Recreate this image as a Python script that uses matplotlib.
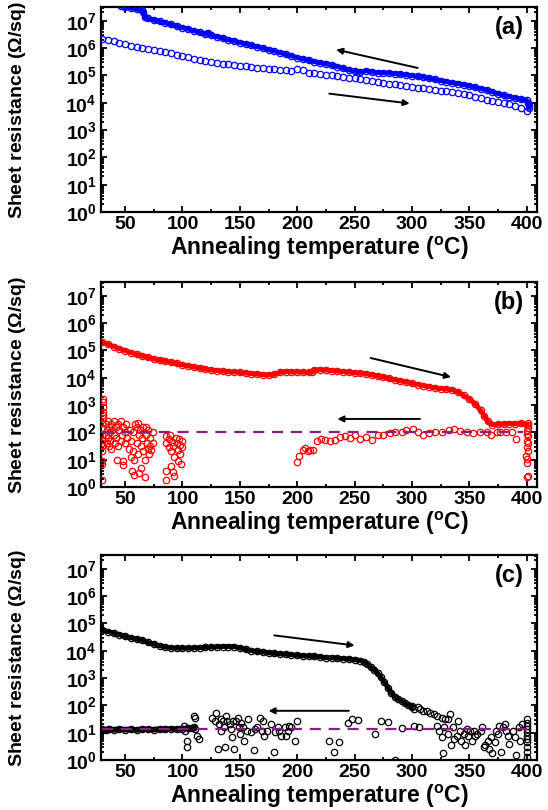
import numpy as np
import matplotlib
matplotlib.use("Agg")
import matplotlib.pyplot as plt
from matplotlib.ticker import FixedLocator, LogLocator, NullFormatter, FuncFormatter

plt.rcParams['font.family'] = ['Liberation Sans', 'DejaVu Sans']
plt.rcParams['font.weight'] = 'bold'
plt.rcParams['mathtext.fontset'] = 'custom'
plt.rcParams['mathtext.rm'] = 'Liberation Sans:bold'
plt.rcParams['mathtext.bf'] = 'Liberation Sans:bold'
plt.rcParams['mathtext.it'] = 'Liberation Sans:bold'
plt.rcParams['mathtext.default'] = 'bf'

# ---- data (temperature in degC, resistance stored as log10 of Ohm/sq) ----
# panel (a): heating (lower branch) and cooling (upper branch)
a_heat_t = [30, 35, 40, 45, 50, 55, 60, 65, 70, 75, 80, 85, 90, 95, 100, 105, 110, 115, 120, 125,
            130, 135, 140, 145, 150, 155, 160, 165, 170, 175, 180, 185, 190, 195, 200, 205, 210, 215,
            220, 225, 230, 235, 240, 245, 250, 255, 260, 265, 270, 275, 280, 285, 290, 295, 300, 305,
            310, 315, 320, 325, 330, 335, 340, 345, 350, 355, 360, 365, 370, 375, 380, 385, 390, 395, 400]
a_heat_r = [6.33, 6.29, 6.24, 6.18, 6.13, 6.09, 6.05, 6.01, 5.97, 5.94, 5.90, 5.85, 5.80, 5.76, 5.71,
            5.66, 5.61, 5.56, 5.52, 5.49, 5.46, 5.43, 5.40, 5.37, 5.35, 5.33, 5.30, 5.28, 5.27, 5.25,
            5.22, 5.20, 5.18, 5.15, 5.23, 5.20, 5.10, 5.07, 5.05, 5.02, 5.00, 4.97, 4.95, 4.92, 4.89,
            4.86, 4.83, 4.80, 4.76, 4.73, 4.70, 4.67, 4.64, 4.61, 4.58, 4.55, 4.52, 4.50, 4.47, 4.44,
            4.41, 4.38, 4.35, 4.31, 4.27, 4.22, 4.17, 4.11, 4.07, 4.03, 3.99, 3.94, 3.88, 3.80, 3.70]
a_cool_t = [402, 402, 401, 400, 395, 390, 385, 380, 375, 370, 365, 360, 355, 350, 345, 340, 335, 330,
            325, 320, 315, 310, 305, 300, 295, 290, 285, 280, 275, 270, 265, 260, 255, 250, 245, 240,
            235, 230, 225, 220, 215, 210, 205, 200, 195, 190, 185, 180, 175, 170, 165, 160, 155, 150,
            145, 140, 135, 130, 125, 122, 120, 115, 110, 105, 100, 95, 90, 85, 80, 75, 70, 67, 66, 65,
            60, 55, 50, 46]
a_cool_r = [3.80, 3.90, 4.00, 4.08, 4.12, 4.17, 4.22, 4.27, 4.33, 4.40, 4.46, 4.51, 4.56, 4.61, 4.66,
            4.70, 4.73, 4.77, 4.81, 4.85, 4.89, 4.93, 4.96, 4.99, 5.02, 5.04, 5.06, 5.08, 5.09, 5.10,
            5.12, 5.17, 5.11, 5.15, 5.20, 5.26, 5.32, 5.37, 5.42, 5.46, 5.50, 5.55, 5.60, 5.65, 5.71,
            5.77, 5.83, 5.89, 5.94, 6.00, 6.05, 6.10, 6.15, 6.20, 6.25, 6.30, 6.36, 6.41, 6.47, 6.56,
            6.50, 6.57, 6.63, 6.69, 6.74, 6.80, 6.86, 6.92, 6.97, 7.02, 7.08, 7.12, 7.30, 7.38, 7.42,
            7.46, 7.50, 7.53]

# panel (b)
b_heat_t = [30, 35, 40, 45, 50, 55, 60, 65, 70, 75, 80, 85, 90, 95, 100, 105, 110, 115, 120, 125,
            130, 135, 140, 145, 150, 155, 160, 165, 170, 175, 180, 185, 190, 195, 200, 205, 210, 213,
            215, 220, 225, 230, 235, 240, 245, 250, 255, 260, 265, 270, 275, 280, 285, 290, 295, 300,
            305, 310, 315, 320, 325, 330, 335, 340, 345, 350, 355, 360, 363, 366, 370, 375, 380, 385,
            390, 395, 400]
b_heat_r = [5.30, 5.22, 5.14, 5.06, 4.99, 4.92, 4.85, 4.79, 4.74, 4.69, 4.64, 4.60, 4.56, 4.52, 4.47,
            4.43, 4.39, 4.35, 4.31, 4.28, 4.26, 4.24, 4.22, 4.21, 4.19, 4.17, 4.15, 4.13, 4.11, 4.10,
            4.12, 4.20, 4.22, 4.21, 4.21, 4.20, 4.19, 4.22, 4.29, 4.29, 4.28, 4.26, 4.24, 4.22, 4.20,
            4.18, 4.16, 4.14, 4.11, 4.06, 4.02, 3.97, 3.93, 3.88, 3.84, 3.79, 3.75, 3.71, 3.67, 3.63,
            3.60, 3.58, 3.56, 3.48, 3.35, 3.22, 3.05, 2.80, 2.60, 2.40, 2.28, 2.30, 2.29, 2.32, 2.31,
            2.33, 2.28]
b_cool_t = [401, 401, 401, 400, 400, 401, 400, 401, 400, 401, 399, 400, 400, 401, 400, 391,
            387, 382, 377, 374, 369, 365, 359, 353, 348, 342, 337, 332, 326, 320, 315, 310, 305, 301,
            295, 291, 285, 281, 275, 270, 265, 260, 255, 250, 246, 242, 237, 233, 229, 224, 221, 217,
            214, 211, 209, 207, 205, 202, 200,
            100, 100, 99, 98, 98, 97, 96, 96, 95, 94, 93, 93, 92, 92, 91, 90, 90, 89, 88, 88, 86, 86,
            86, 86,
            74, 74, 73, 72, 72, 71, 70, 70, 69, 68, 68, 67, 67, 66, 66, 65, 64, 64, 63, 62, 62, 61, 61,
            60, 60, 59, 58, 58, 57, 57, 56, 55, 55, 54, 53, 52, 51, 50, 50, 48, 48, 48, 47, 46, 46, 45,
            44, 44, 43, 42, 42, 41, 40, 40, 39, 38, 38, 37, 37, 36, 36, 35, 35, 34, 34, 33, 33,
            31, 31, 31, 31, 31, 31, 30, 30, 30, 30, 30, 30, 30, 30, 30, 30]
b_cool_r = [2.33, 2.25, 2.15, 2.05, 1.95, 1.85, 1.70, 1.61, 1.45, 1.31, 1.15, 1.01, 0.89, 0.42, 0.35,
            1.77, 2.03, 2.03, 2.00, 2.00, 1.91, 2.01, 2.00, 1.97, 2.00, 2.05, 2.12, 2.09, 2.03, 2.01,
            1.97, 1.91, 2.03, 2.13, 2.09, 2.03, 2.01, 1.97, 1.91, 1.89, 1.73, 1.82, 1.77, 1.91, 1.79,
            1.85, 1.82, 1.73, 1.67, 1.73, 1.77, 1.67, 1.37, 1.37, 1.31, 1.43, 1.37, 1.13, 0.92,
            1.70, 1.45, 0.85, 1.20, 1.55, 1.75, 1.35, 0.95, 1.60, 1.80, 0.40, 1.10, 1.50, 0.55, 1.65,
            1.30, 0.75, 1.90, 1.75, 1.45, 1.85, 1.60, 0.60, 0.25,
            1.60, 2.00, 1.35, 1.80, 1.50, 1.20, 2.10, 1.40, 1.60, 2.20, 1.90, 1.00, 0.35, 2.20, 1.30,
            1.80, 1.50, 0.70, 2.10, 1.90, 0.50, 2.35, 1.20, 2.20, 1.60, 2.30, 1.00, 0.45, 2.00, 1.30,
            0.60, 1.70, 1.10, 2.10, 1.40, 1.80, 2.30, 2.00, 1.60, 2.20, 0.95, 0.80, 1.90, 1.70, 2.40,
            2.10, 1.50, 2.30, 1.00, 2.20, 1.80, 1.60, 2.40, 1.90, 2.10, 1.40, 2.30, 1.70, 2.00, 1.50,
            2.20, 2.40, 1.80, 2.10, 1.60, 2.30, 1.90,
            3.23, 3.11, 2.93, 2.75, 2.63, 2.51, 2.33, 2.15, 1.91, 1.73, 1.49, 1.31, 0.95, 0.85, 1.60,
            0.25]

# panel (c)
c_heat_t = [30, 35, 40, 45, 50, 55, 60, 65, 70, 75, 80, 85, 90, 95, 100, 105, 110, 115, 120, 125,
            130, 135, 140, 145, 150, 155, 160, 165, 170, 175, 180, 185, 190, 195, 200, 205, 210, 215,
            220, 225, 230, 235, 240, 245, 250, 255, 258, 261, 264, 267, 270, 273, 276, 279, 282, 285,
            288, 291, 294, 297, 300]
c_heat_r = [4.77, 4.70, 4.64, 4.58, 4.52, 4.47, 4.42, 4.38, 4.30, 4.24, 4.18, 4.13, 4.10, 4.09, 4.09,
            4.09, 4.10, 4.11, 4.12, 4.13, 4.14, 4.15, 4.15, 4.15, 4.10, 4.05, 4.00, 3.97, 3.95, 3.92,
            3.90, 3.88, 3.87, 3.85, 3.83, 3.81, 3.80, 3.79, 3.77, 3.75, 3.74, 3.72, 3.71, 3.69, 3.67,
            3.64, 3.60, 3.50, 3.40, 3.30, 3.18, 3.02, 2.85, 2.65, 2.45, 2.32, 2.22, 2.16, 2.08, 2.00,
            1.95]
c_tail_t = [300, 302, 305, 307, 310, 313, 316, 319, 322, 326, 329, 331]
c_tail_r = [1.96, 1.88, 1.93, 1.85, 1.79, 1.81, 1.73, 1.67, 1.61, 1.55, 1.51, 1.49]
c_band_t = [30, 33, 36, 40, 45, 50, 55, 60, 65, 70, 75, 80, 85, 90, 95, 100, 105, 108, 110]
c_band_r = [1.12, 1.08, 1.15, 1.10, 1.13, 1.11, 1.12, 1.10, 1.13, 1.12, 1.11, 1.13, 1.12, 1.14,
            1.13, 1.15, 1.16, 1.18, 1.20]
c_cool_t = [101, 102, 104, 104, 110, 111, 111, 113, 114, 126, 128, 129, 131, 132, 134, 134, 135, 136,
            137, 138, 139, 141, 142, 143, 144, 145, 147, 148, 149, 150, 151, 153, 154, 156, 157, 160,
            162, 163, 165, 168, 169, 170, 171, 174, 177, 180, 181, 183, 184, 186, 189, 190, 192, 193,
            195, 198, 200, 228, 232, 236, 244, 248, 253, 268, 273, 279, 285, 291, 302, 306,
            322, 324, 326, 327, 328, 331, 333, 334, 336, 337, 339, 340, 342, 343, 345, 346, 348, 349,
            351, 352, 354, 355, 357, 360, 361, 363, 364, 366, 367, 369, 370, 372, 373, 375, 376, 378,
            379, 381, 382, 384, 385, 388, 390, 391, 393, 394, 396,
            400, 400, 400, 400, 400, 400, 400, 400, 400, 400, 400]
c_cool_r = [1.25, 1.07, 0.71, 0.48, 1.61, 1.55, 1.13, 0.89, 0.77, 1.55, 1.43, 1.73, 0.42, 1.31, 1.49,
            1.07, 1.43, 1.19, 0.48, 1.61, 1.43, 1.31, 1.13, 0.83, 1.43, 0.42, 1.43, 1.55, 1.19, 0.95,
            1.37, 1.19, 0.71, 1.07, 1.49, 1.01, 0.36, 1.13, 1.21, 1.52, 1.07, 1.43, 0.89, 1.07, 1.31,
            0.30, 1.01, 1.19, 1.07, 0.89, 1.19, 0.89, 1.07, 1.25, 1.19, 0.71, 1.43, 0.71, 0.30, 0.65,
            1.37, 1.49, 1.45, 0.95, 1.43, 1.40, 0.00, 1.17, 1.25, 1.19,
            1.25, 1.07, 0.83, 0.24, 1.19, 0.95, 1.67, 0.54, 1.19, 0.77, 0.89, 1.43, 1.07, 0.71, 0.95,
            0.54, 1.13, 0.89, 1.07, 0.71, 1.07, 0.89, 0.95, 1.07, 1.19, 0.48, 0.54, 0.71, 0.42, 0.83,
            0.24, 0.65, 1.07, 0.95, 1.25, 0.30, 1.19, 1.31, 1.07, 0.89, 0.60, 1.07, 0.83, 0.18, 1.19,
            0.71, 1.31,
            1.49, 1.37, 1.25, 1.13, 1.01, 0.89, 0.77, 0.65, 0.48, 0.30, 0.12]

b_level = 100    # dashed reference level in (b)
c_level = 14     # dashed reference level in (c)

x_ticks = [50, 100, 150, 200, 250, 300, 350, 400]
y_decades = [0, 1, 2, 3, 4, 5, 6, 7]
panel_tags = ['(a)', '(b)', '(c)']

# ---- figure ----
fig = plt.figure(figsize=(5.48, 8.1), dpi=100)
W, H = 548.0, 810.0
boxes = [(101, 7, 537, 212), (101, 282, 537, 487), (101, 555, 537, 760)]
axes = []
for (x0, y0, x1, y1) in boxes:
    ax = fig.add_axes([x0 / W, 1 - y1 / H, (x1 - x0) / W, (y1 - y0) / H])
    axes.append(ax)

purple = '#8B1A8B'


def style_axis(ax, tag):
    ax.set_yscale('log')
    ax.set_xlim(29, 409)
    ax.set_ylim(1, 10 ** 7.5)
    ax.xaxis.set_major_locator(FixedLocator(x_ticks))
    ax.xaxis.set_minor_locator(FixedLocator([75, 125, 175, 225, 275, 325, 375]))
    ax.yaxis.set_major_locator(FixedLocator([10.0 ** d for d in y_decades]))
    ax.yaxis.set_minor_locator(LogLocator(base=10, subs=np.arange(2, 10), numticks=20))
    ax.yaxis.set_minor_formatter(NullFormatter())
    ax.yaxis.set_major_formatter(FuncFormatter(lambda v, p: r'$10^{%d}$' % round(np.log10(v))))
    ax.tick_params(which='both', direction='in', top=True, right=True, width=1.3)
    ax.tick_params(which='major', length=4.5, labelsize=14, pad=3)
    ax.tick_params(which='minor', length=2.5)
    for s in ax.spines.values():
        s.set_linewidth(1.6)
    for lab in ax.get_xticklabels() + ax.get_yticklabels():
        lab.set_fontweight('bold')
    ax.set_xlabel(r'Annealing temperature ($^{\mathrm{o}}$C)', fontsize=16.5, fontweight='bold',
                  labelpad=1)
    ax.set_ylabel(r'Sheet resistance ($\Omega$/sq)', fontsize=14, fontweight='bold')
    ax.yaxis.set_label_coords(-0.168, 0.5)
    ax.text(0.97, 0.9, tag, transform=ax.transAxes, ha='right', va='center',
            fontsize=17, fontweight='bold')


def arrow(ax, x0, d0, x1, d1):
    ax.annotate('', xy=(x1, 10 ** d1), xytext=(x0, 10 ** d0),
                arrowprops=dict(arrowstyle='-|>', lw=1.4, color='k', mutation_scale=9,
                                shrinkA=0, shrinkB=0))


def markers(ax, t, r, color, line=0):
    y = 10 ** np.array(r)
    if line:
        ax.plot(t, y, '-', color=color, lw=line, zorder=2)
    ax.plot(t, y, 'o', mfc='none', mec=color, ms=4.6, mew=0.9, zorder=3, clip_on=True)


# (a)
ax = axes[0]
style_axis(ax, panel_tags[0])
markers(ax, a_heat_t, a_heat_r, '#0000FF')
markers(ax, a_cool_t, a_cool_r, '#0000FF', line=3.5)
arrow(ax, 305, 5.27, 234, 5.94)
arrow(ax, 228, 4.33, 298, 3.97)

# (b)
ax = axes[1]
style_axis(ax, panel_tags[1])
markers(ax, b_heat_t, b_heat_r, '#FF0000', line=3.5)
markers(ax, b_cool_t, b_cool_r, '#FF0000')
ax.plot([30, 397], [b_level, b_level], '--', color=purple, lw=1.6, dashes=(5, 3.5), zorder=4)
arrow(ax, 264, 4.72, 334, 4.02)
arrow(ax, 307, 2.49, 235, 2.49)

# (c)
ax = axes[2]
style_axis(ax, panel_tags[2])
markers(ax, c_heat_t, c_heat_r, '#000000', line=3.5)
markers(ax, c_tail_t, c_tail_r, '#000000')
markers(ax, c_band_t, c_band_r, '#000000', line=4)
markers(ax, c_cool_t, c_cool_r, '#000000')
ax.plot([30, 400], [c_level, c_level], '--', color=purple, lw=1.6, dashes=(5, 3.5), zorder=4)
arrow(ax, 180, 4.56, 250, 4.19)
arrow(ax, 245, 1.80, 175, 1.80)

fig.savefig('out.png', dpi=100)
